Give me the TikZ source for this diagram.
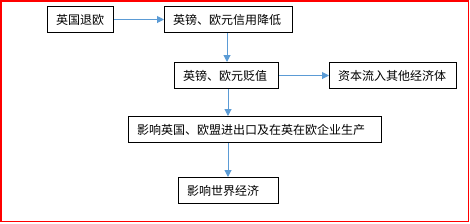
\documentclass[tikz,border=0pt]{standalone}
\usepackage{fontspec}
\setmainfont{Noto Sans CJK SC}
\usetikzlibrary{arrows.meta}
\definecolor{arrowblue}{HTML}{5B9BD5}
\tikzset{
  box/.style={draw=black, line width=1pt, anchor=north west, minimum height=26pt,
    inner xsep=8.5pt, inner ysep=0pt, align=left, font=\fontsize{12}{13}\selectfont},
  conn/.style={draw=arrowblue, line width=1pt, -{Triangle[length=7pt,width=7pt]}}
}
\begin{document}
\begin{tikzpicture}[x=1pt,y=-1pt]
\useasboundingbox (0,0) rectangle (470,223);
\draw[red, line width=1.5pt] (0.75,0.75) rectangle (468.5,221.5);
\node[box, text width=49pt] (b1) at (47,6) {英国退欧};
\node[box, text width=111pt] (b2) at (164,6) {英镑、欧元信用降低};
\node[box, text width=87pt] (b3) at (174,62) {英镑、欧元贬值};
\node[box, text width=110pt] (b4) at (329,62) {资本流入其他经济体};
\node[box, text width=236pt] (b5) at (128,116) {影响英国、欧盟进出口及在英在欧企业生产};
\node[box, text width=83pt] (b6) at (178,177) {影响世界经济};
\draw[conn] (b1.east) -- (b2.west);
\draw[conn] (b2.south -| 227,0) -- (b3.north -| 227,0);
\draw[conn] (b3.east) -- (b4.west);
\draw[conn] (b3.south -| 228,0) -- (b5.north -| 228,0);
\draw[conn] (b5.south -| 228,0) -- (b6.north -| 228,0);
\end{tikzpicture}
\end{document}
